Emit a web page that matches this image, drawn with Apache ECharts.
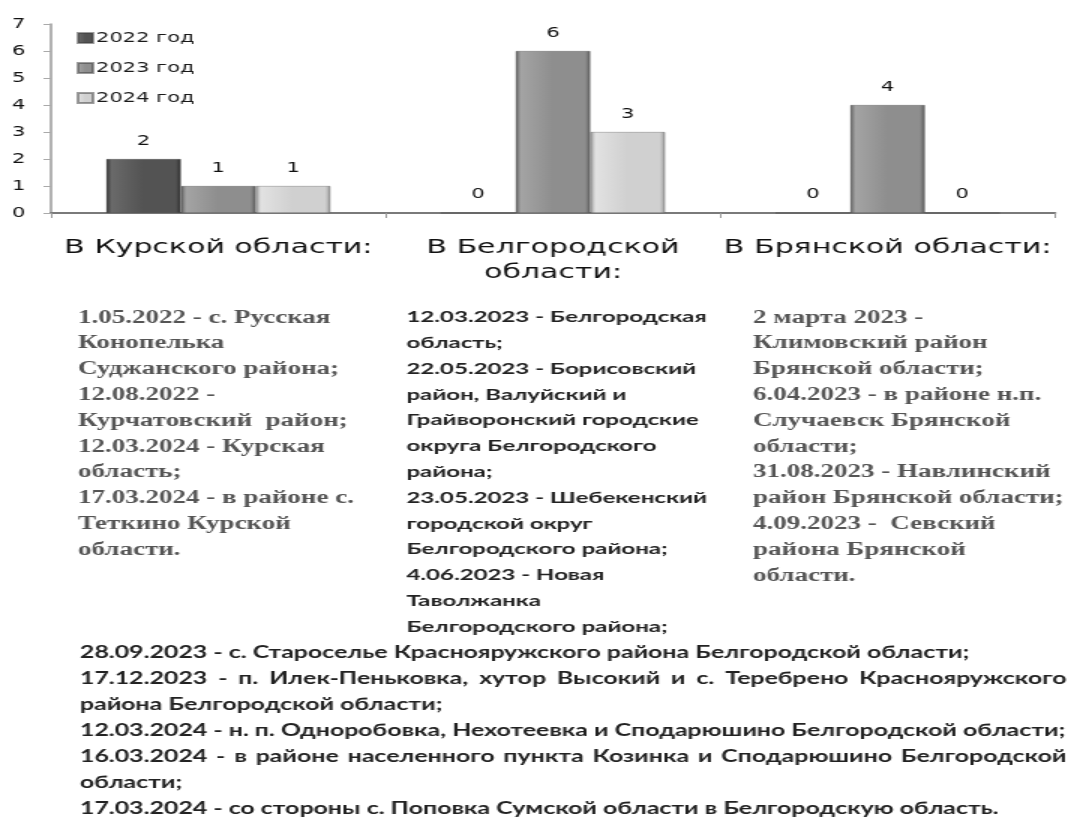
<!DOCTYPE html>
<html><head><meta charset="utf-8">
<script src="https://cdn.jsdelivr.net/npm/echarts@6/dist/echarts.min.js"></script>
<style>
html,body{margin:0;padding:0;background:#fff;overflow:hidden}
#wrap{width:1074px;height:820px;overflow:hidden;position:relative}
#chart{width:716px;height:820px;transform:scaleX(1.5);transform-origin:0 0}
</style></head>
<body><div id="wrap"><div id="chart"></div></div>
<script>
// ---- data ----
const categories = ['В Курской области:', 'В Белгородской\nобласти:', 'В Брянской области:'];
const seriesNames = ['2022 год', '2023 год', '2024 год'];
const values2022 = [2, 0, 0];
const values2023 = [1, 6, 4];
const values2024 = [1, 3, 0];
const yMin = 0, yMax = 7, yStep = 1;

const kurskNotes = [
  '1.05.2022 - с. Русская',
  'Конопелька',
  'Суджанского района;',
  '12.08.2022 -',
  'Курчатовский  район;',
  '12.03.2024 - Курская',
  'область;',
  '17.03.2024 - в районе с.',
  'Теткино Курской',
  'области.'
];
const belgorodNotes = [
  '12.03.2023 - Белгородская',
  'область;',
  '22.05.2023 - Борисовский',
  'район, Валуйский и',
  'Грайворонский городские',
  'округа Белгородского',
  'района;',
  '23.05.2023 - Шебекенский',
  'городской округ',
  'Белгородского района;',
  '4.06.2023 - Новая',
  'Таволжанка',
  'Белгородского района;'
];
const bryanskNotes = [
  '2 марта 2023 -',
  'Климовский район',
  'Брянской области;',
  '6.04.2023 - в районе н.п.',
  'Случаевск Брянской',
  'области;',
  '31.08.2023 - Навлинский',
  'район Брянской области;',
  '4.09.2023 -  Севский',
  'района Брянской',
  'области.'
];
const bottomParagraphs = [
  ['28.09.2023 - с. Староселье Краснояружского района Белгородской области;'],
  ['17.12.2023 - п. Илек-Пеньковка, хутор Высокий и с. Теребрено Краснояружского', 'района Белгородской области;'],
  ['12.03.2024 - н. п. Одноробовка, Нехотеевка и Сподарюшино Белгородской области;'],
  ['16.03.2024 - в районе населенного пункта Козинка и Сподарюшино Белгородской', 'области;'],
  ['17.03.2024 - со стороны с. Поповка Сумской области в Белгородскую область.']
];

// ---- layout / style ----
const LH = 25.8;
const sansFont = 'DejaVu Sans';
const serifStyle = { font: 'bold 18px "Liberation Serif"', fill: '#555' };
const calStyle = { font: 'bold 16px Lato', fill: '#222' };
const bottomStyle = { font: 'bold 16.6px Lato', fill: '#222' };

function bevel(dark, light, base) {
  return new echarts.graphic.LinearGradient(0, 0, 1, 0, [
    { offset: 0, color: dark }, { offset: 0.07, color: light },
    { offset: 0.5, color: base }, { offset: 0.93, color: base }, { offset: 1, color: dark }
  ]);
}
const barColors = [
  bevel('#2e2e2e', '#6a6a6a', '#535353'),
  bevel('#5e5e5e', '#a4a4a4', '#8e8e8e'),
  bevel('#9a9a9a', '#e2e2e2', '#d0d0d0')
];
const barData = [values2022, values2023, values2024];

const series = seriesNames.map((name, i) => ({
  name, type: 'bar', data: barData[i],
  barGap: '0%', barCategoryGap: '33%',
  itemStyle: { color: barColors[i], borderColor: 'rgba(60,60,60,0.5)', borderWidth: 0.6 },
  label: { show: true, position: 'top', distance: 11, color: '#111', fontFamily: sansFont, fontSize: 14 }
}));

// text columns
const graphics = [];
function column(lines, x, yFirst, style) {
  graphics.push({
    type: 'text', left: x, top: yFirst - LH / 2, silent: true,
    style: Object.assign({ text: lines.join('\n'), lineHeight: LH, textVerticalAlign: 'top' }, style)
  });
}
column(kurskNotes, 52, 318, serifStyle);
column(belgorodNotes, 271, 317, calStyle);
column(bryanskNotes, 502, 318, serifStyle);

// bottom paragraphs with justified lines
const ctx = document.createElement('canvas').getContext('2d');
ctx.font = bottomStyle.font;
const bx0 = 53.3, bx1 = 711;
let by = 653;
bottomParagraphs.forEach(par => {
  par.forEach((line, li) => {
    const last = li === par.length - 1;
    if (last) {
      graphics.push({ type: 'text', x: bx0, y: by, silent: true,
        style: Object.assign({ text: line, textVerticalAlign: 'middle' }, bottomStyle) });
    } else {
      const words = line.split(/\s+/);
      const widths = words.map(w => ctx.measureText(w).width);
      const sum = widths.reduce((a, b) => a + b, 0);
      const gap = (bx1 - bx0 - sum) / (words.length - 1);
      let x = bx0;
      words.forEach((w, wi) => {
        graphics.push({ type: 'text', x: x, y: by, silent: true,
          style: Object.assign({ text: w, textVerticalAlign: 'middle' }, bottomStyle) });
        x += widths[wi] + gap;
      });
    }
    by += LH + 0.2;
  });
});

const chart = echarts.init(document.getElementById('chart'));
chart.setOption({
  backgroundColor: '#fff',
  animation: false,
  grid: { left: 34, right: 12.7, top: 24, bottom: 607, containLabel: false },
  legend: {
    data: seriesNames, orient: 'vertical', left: 51, top: 31, padding: 0,
    icon: 'rect', itemWidth: 10, itemHeight: 10, itemGap: 16,
    textStyle: { fontFamily: sansFont, fontSize: 14, color: '#1a1a1a', padding: [0, 0, 0, -3] }
  },
  xAxis: {
    type: 'category', data: categories,
    axisLine: { lineStyle: { color: '#7a7a7a', width: 2 } },
    axisTick: { show: true, length: 5, lineStyle: { color: '#999' } },
    axisLabel: { interval: 0, margin: 22, fontFamily: sansFont, fontSize: 20, color: '#111', lineHeight: 25 }
  },
  yAxis: {
    type: 'value', min: yMin, max: yMax, interval: yStep,
    axisLine: { show: true, lineStyle: { color: '#999', width: 1.5 } },
    axisTick: { show: true, length: 5, lineStyle: { color: '#aaa' } },
    splitLine: { show: false },
    axisLabel: { margin: 17, fontFamily: sansFont, fontSize: 14, color: '#111' }
  },
  series,
  graphic: graphics
});
</script>
</body></html>
